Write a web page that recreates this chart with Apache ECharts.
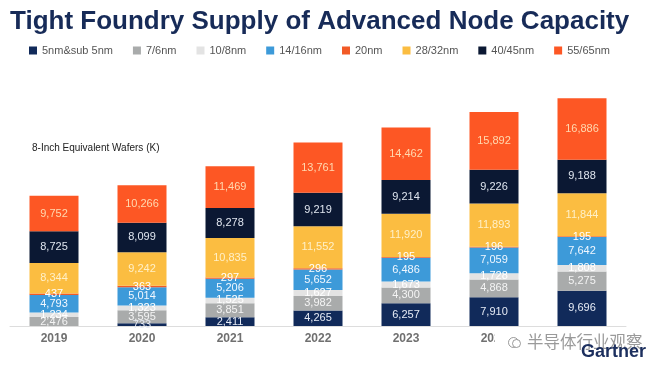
<!DOCTYPE html>
<html><head><meta charset="utf-8">
<script src="https://cdn.jsdelivr.net/npm/echarts@6/dist/echarts.min.js"></script>
<style>html,body{margin:0;padding:0;background:#fff}#c{width:654px;height:365px}</style>
</head><body><div id="c"></div>
<script>
const years = ['2019','2020','2021','2022','2023','2024','2025'];
const seriesNames = ['5nm&sub 5nm','7/6nm','10/8nm','14/16nm','20nm','28/32nm','40/45nm','55/65nm'];
const n5 = [0, 733, 2411, 4265, 6257, 7910, 9696];
const n7 = [2476, 3595, 3851, 3982, 4300, 4868, 5275];
const n10 = [1234, 1323, 1525, 1627, 1673, 1728, 1808];
const n14 = [4793, 5014, 5206, 5652, 6486, 7059, 7642];
const n20 = [437, 363, 297, 296, 195, 196, 195];
const n28 = [8344, 9242, 10835, 11552, 11920, 11893, 11844];
const n40 = [8725, 8099, 8278, 9219, 9214, 9226, 9188];
const n55 = [9752, 10266, 11469, 13761, 14462, 15892, 16886];
const values = [n5, n7, n10, n14, n20, n28, n40, n55];
const colors = ['#112a5a','#a9abab','#e3e3e3','#3d9ad9','#f25a26','#fbbd41','#0b1833','#fd5724'];
const labelColors = ['#e6ebf5','#f4f4f4','#ffffff','#f0f7ff','#ffffff','#fff0c8','#dfe5ef','#ffd9b0'];

const chart = echarts.init(document.getElementById('c'));
const fmt = p => p.value ? p.value.toLocaleString('en-US') : '';
chart.setOption({
  animation: false,
  textStyle: {fontFamily: 'Liberation Sans, Arial, sans-serif'},
  title: {
    text: 'Tight Foundry Supply of Advanced Node Capacity',
    left: 5, top: 4,
    textStyle: {fontSize: 26, fontWeight: 'bold', color: '#172b58', fontFamily: 'Liberation Sans, Arial, sans-serif'}
  },
  legend: {
    data: seriesNames, left: 24, top: 40,
    itemWidth: 8, itemHeight: 8, itemGap: 20, icon: 'rect',
    textStyle: {fontSize: 11, color: '#555'}
  },
  graphic: [
    {type: 'text', left: 32, top: 143, style: {text: '8-Inch Equivalent Wafers (K)', fontSize: 10, fill: '#222', fontFamily: 'Liberation Sans, Arial, sans-serif'}},
    {type: 'rect', left: 495, top: 330, z: 99, shape: {width: 159, height: 18}, style: {fill: '#ffffff'}},
    {type: 'circle', left: 506, top: 335, z: 100, shape: {r: 5}, style: {fill: 'none', stroke: 'rgba(130,130,130,0.8)', lineWidth: 1}},
    {type: 'circle', left: 512, top: 339, z: 100, shape: {r: 4}, style: {fill: '#fff', stroke: 'rgba(130,130,130,0.8)', lineWidth: 1}},
    {type: 'text', left: 527, top: 333, z: 100, style: {text: '半导体行业观察', fontSize: 16.5, fill: 'rgba(120,120,120,0.75)', fontFamily: 'Noto Sans CJK SC'}},
    {type: 'text', left: 581, top: 343, z: 101, style: {text: 'Gartner', fontSize: 18, fontWeight: 'bold', fill: '#1c2f5e', fontFamily: 'Liberation Sans, Arial, sans-serif'}}
  ],
  grid: {left: 10, right: 28, top: 71, bottom: 39, containLabel: false},
  xAxis: {
    type: 'category', data: years,
    axisLine: {lineStyle: {color: '#dddddd'}},
    axisTick: {show: false},
    axisLabel: {color: '#707070', fontSize: 12, fontWeight: 'bold', margin: 7}
  },
  yAxis: {type: 'value', min: 0, max: 70000, show: false, splitLine: {show: false}},
  series: seriesNames.map((name, i) => ({
    name, type: 'bar', stack: 'total', barWidth: 49,
    data: values[i],
    itemStyle: {color: colors[i]},
    label: {show: true, position: 'inside', formatter: fmt, fontSize: 11, color: labelColors[i]}
  }))
});
</script></body></html>
